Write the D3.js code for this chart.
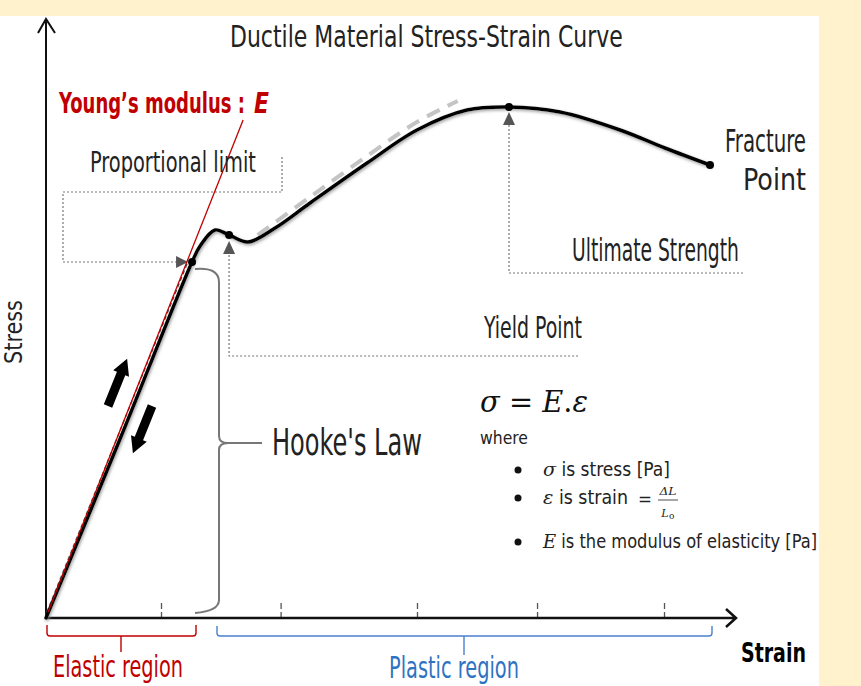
<!DOCTYPE html>
<html>
<head>
<meta charset="utf-8">
<script src="https://cdn.jsdelivr.net/npm/d3@7"></script>
<style>
  body { margin: 0; background: #fff2cc; }
  svg { display: block; }
</style>
</head>
<body>
<div id="drawingfield"></div>
<script>
// the width and height of svg
var width = 861;
var height = 686;

// curve data (strain in arbitrary %, stress in arbitrary MPa)
var strain = [0, 3.2, 6.35, 6.70, 7.35, 7.96, 8.78, 9.96, 11.48, 13.96, 16.13, 18.30, 20.13, 22.35, 24.96, 26.91, 28.87];
var stress = [0, 178, 356, 372, 388, 383, 376, 390, 415, 455, 488, 508, 511, 506, 488, 470, 453];

// grey dashed trend above the plastic part
var trendStrain = [9.2, 11.48, 13.96, 16.13, 17.9];
var trendStress = [383, 421, 462, 496, 517];

// young's modulus tangent (red)
var modStrain = [0.09, 8.57];
var modStress = [6, 498];

// x axis tick marks
var tickValues = [5, 10.2, 16.13, 21.35, 26.87];

// index of key points on the curve
var propIdx = 2, yieldIdx = 5, ultIdx = 12, fracIdx = 16;

var FONT = "'Liberation Sans Narrow','DejaVu Sans Condensed',sans-serif";
var SERIF = "'DejaVu Serif','Liberation Serif',serif";

var svg = d3.select("#drawingfield")
  .append("svg")
  .attr("width", width)
  .attr("height", height);

// background: yellow page with white panel
svg.append("rect").attr("width", width).attr("height", height).attr("fill", "#fff2cc");
svg.append("rect").attr("x", 0).attr("y", 16).attr("width", 819).attr("height", height - 16).attr("fill", "#fff");

var defs = svg.append("defs");
var f = defs.append("filter").attr("id", "shadow").attr("x", "-10%").attr("y", "-10%").attr("width", "120%").attr("height", "120%");
f.append("feDropShadow").attr("dx", 1).attr("dy", 1.5).attr("stdDeviation", 1.5).attr("flood-color", "#888").attr("flood-opacity", 0.8);

// scales
var x = d3.scaleLinear().domain([0, 30]).range([46, 736]);
var y = d3.scaleLinear().domain([0, 600]).range([618, 18]);

// text squeezed horizontally to a given width (narrow font look)
function label(t, px, py, size, len, opt) {
  opt = opt || {};
  var el = svg.append("text")
    .attr("x", 0).attr("y", 0)
    .attr("font-family", opt.family || FONT)
    .attr("font-size", size)
    .attr("font-weight", opt.weight || "normal")
    .attr("font-style", opt.italic ? "italic" : "normal")
    .attr("fill", opt.color || "#222")
    .attr("text-anchor", opt.anchor || "start")
    .text(t);
  var sx = 1;
  if (len) sx = len / el.node().getComputedTextLength();
  var tr = "translate(" + px + "," + py + ")";
  if (opt.rotate) tr += " rotate(" + opt.rotate + ")";
  tr += " scale(" + sx + ",1)";
  el.attr("transform", tr);
  return el;
}

// title
label("Ductile Material Stress-Strain Curve", 230, 47, 30, 393);

// x axis ticks (dashed, above the axis)
var axis = d3.axisBottom(x).tickValues(tickValues).tickSize(-17).tickFormat("");
var gx = svg.append("g").attr("transform", "translate(0," + y(0) + ")").call(axis);
gx.select(".domain").remove();
gx.selectAll(".tick line").attr("stroke", "#555").attr("stroke-width", 1.3).attr("stroke-dasharray", "6,3");

// axes with arrows
svg.append("path").attr("d", "M46,618 L46,19 M38,33 L46,19 L55,33")
  .attr("fill", "none").attr("stroke", "#111").attr("stroke-width", 2);
svg.append("path").attr("d", "M46,618 L736,618 M726,609 L736,618 L726,627")
  .attr("fill", "none").attr("stroke", "#111").attr("stroke-width", 2.5);

// annotation guides (dotted)
function dotted(d) {
  svg.append("path").attr("d", d).attr("fill", "none")
    .attr("stroke", "#777").attr("stroke-width", 1.2).attr("stroke-dasharray", "2,2");
}
var pp = [x(strain[propIdx]), y(stress[propIdx])];
var yp = [x(strain[yieldIdx]), y(stress[yieldIdx])];
var up = [x(strain[ultIdx]), y(stress[ultIdx])];

dotted("M282,157 L282,192 L63,192 L63," + pp[1] + " L" + (pp[0] - 14) + "," + pp[1]);
dotted("M" + yp[0] + "," + (yp[1] + 20) + " L" + yp[0] + ",356 L578,356");
dotted("M" + up[0] + "," + (up[1] + 18) + " L" + up[0] + ",273 L743,273");

// grey triangles
function tri(pts) {
  svg.append("path").attr("d", "M" + pts.join(" L") + " Z").attr("fill", "#555");
}
tri([[pp[0] - 4, pp[1]], [pp[0] - 16, pp[1] - 6], [pp[0] - 16, pp[1] + 6]]);
tri([[yp[0], yp[1] + 6], [yp[0] - 6, yp[1] + 19], [yp[0] + 6, yp[1] + 19]]);
tri([[up[0], up[1] + 5], [up[0] - 6, up[1] + 18], [up[0] + 6, up[1] + 18]]);

// hooke's law brace
svg.append("path")
  .attr("d", "M195,269 Q219,267 219,282 L219,436 Q219,443 228,443 Q219,443 219,450 L219,600 Q219,611 195,613 M228,443 L262,443")
  .attr("fill", "none").attr("stroke", "#777").attr("stroke-width", 2);

// lines
var line = d3.line().x(function (d) { return x(d[0]); }).y(function (d) { return y(d[1]); });
var curveData = strain.map(function (s, i) { return [s, stress[i]]; });
var trendData = trendStrain.map(function (s, i) { return [s, trendStress[i]]; });
var modData = modStrain.map(function (s, i) { return [s, modStress[i]]; });

// grey dashed trend
svg.append("path").datum(trendData)
  .attr("d", line.curve(d3.curveCatmullRom.alpha(0.5)))
  .attr("fill", "none").attr("stroke", "#c4c4c4").attr("stroke-width", 4).attr("stroke-dasharray", "14,9");

// dark dashed line beside the elastic part
svg.append("path")
  .attr("d", "M" + (x(0) + 1) + "," + (y(0) - 6) + " L" + (pp[0] - 5) + "," + (pp[1] + 2))
  .attr("fill", "none").attr("stroke", "#444").attr("stroke-width", 1.3).attr("stroke-dasharray", "4,3");

// main curve
svg.append("path").datum(curveData)
  .attr("d", line.curve(d3.curveCatmullRom.alpha(0.5)))
  .attr("fill", "none").attr("stroke", "#000").attr("stroke-width", 3.5)
  .attr("stroke-linecap", "round").attr("filter", "url(#shadow)");

// red modulus line
svg.append("path").datum(modData)
  .attr("d", line.curve(d3.curveLinear))
  .attr("fill", "none").attr("stroke", "#c00000").attr("stroke-width", 1.3);

// key point dots
[propIdx, yieldIdx, ultIdx, fracIdx].forEach(function (i) {
  svg.append("circle").attr("cx", x(strain[i])).attr("cy", y(stress[i])).attr("r", 4).attr("fill", "#000");
});

// loading / unloading block arrows
function blockArrow(tx, ty, ang) {
  svg.append("path")
    .attr("d", "M-4.5,0 L-4.5,-35 L-8.5,-35 L0,-51 L8.5,-35 L4.5,-35 L4.5,0 Z")
    .attr("transform", "translate(" + tx + "," + ty + ") rotate(" + ang + ")")
    .attr("fill", "#000");
}
blockArrow(108, 406, 22);
blockArrow(152, 406, 202);

// labels
label("Young\u2019s modulus :", 59, 113, 29, 186, { weight: "bold", color: "#c00000" });
label("E", 254, 113, 29, 15, { weight: "bold", color: "#c00000", italic: true });
label("Proportional limit", 90, 172, 29, 166);
label("Yield Point", 484, 338, 31, 98);
label("Ultimate Strength", 572, 261, 32, 167);
label("Fracture", 806, 152, 32, 81, { anchor: "end" });
label("Point", 806, 190, 30, 63, { anchor: "end" });
label("Hooke's Law", 272, 455, 37, 150);
label("Stress", 22, 364, 25, 64, { rotate: -90 });
label("Strain", 741, 662, 26, 65, { weight: "bold", color: "#000" });
label("Elastic region", 53, 677, 30, 130, { color: "#c00000" });
label("Plastic region", 389, 678, 30, 130, { color: "#2e72c2" });

// region braces
svg.append("path")
  .attr("d", "M47,625 L47,633 Q47,636 50,636 L193,636 Q196,636 196,633 L196,625 M121,636 L121,652")
  .attr("fill", "none").attr("stroke", "#c00000").attr("stroke-width", 1.4);
svg.append("path")
  .attr("d", "M217,626 L217,633 Q217,636 220,636 L709,636 Q712,636 712,633 L712,626 M464,636 L464,655")
  .attr("fill", "none").attr("stroke", "#4a7fd0").attr("stroke-width", 1.4);

// formula block
var fm = svg.append("text").attr("x", 480).attr("y", 412).attr("font-family", SERIF)
  .attr("font-size", 30).attr("fill", "#111")
  .attr("textLength", 108).attr("lengthAdjust", "spacingAndGlyphs");
fm.append("tspan").attr("font-style", "italic").text("\u03c3");
fm.append("tspan").text(" = ");
fm.append("tspan").attr("font-style", "italic").text("E");
fm.append("tspan").text(".");
fm.append("tspan").attr("font-style", "italic").text("\u03b5");

label("where", 480, 444, 18, 48);

var bulletY = [470, 498, 542];
bulletY.forEach(function (by) {
  svg.append("circle").attr("cx", 518).attr("cy", by).attr("r", 3.5).attr("fill", "#111");
});

function mathItem(sym, rest, py, len) {
  var t = svg.append("text").attr("x", 543).attr("y", py).attr("font-family", FONT)
    .attr("font-size", 19).attr("fill", "#222")
    .attr("textLength", len).attr("lengthAdjust", "spacingAndGlyphs");
  t.append("tspan").attr("font-family", SERIF).attr("font-style", "italic").text(sym);
  t.append("tspan").text(rest);
}
mathItem("\u03c3", " is stress [Pa]", 476, 127);
mathItem("\u03b5", " is strain", 504, 85);
mathItem("E", " is the modulus of elasticity [Pa]", 548, 274);

// strain fraction
label("=", 638, 506, 18, 14, { family: SERIF });
label("\u0394L", 668, 495, 11, 17, { family: SERIF, anchor: "middle", italic: true });
svg.append("line").attr("x1", 658).attr("x2", 678).attr("y1", 500).attr("y2", 500).attr("stroke", "#222").attr("stroke-width", 0.8);
label("L", 665, 517, 11, null, { family: SERIF, anchor: "middle", italic: true });
label("o", 669, 519, 9, null, { family: SERIF });
</script>
</body>
</html>
